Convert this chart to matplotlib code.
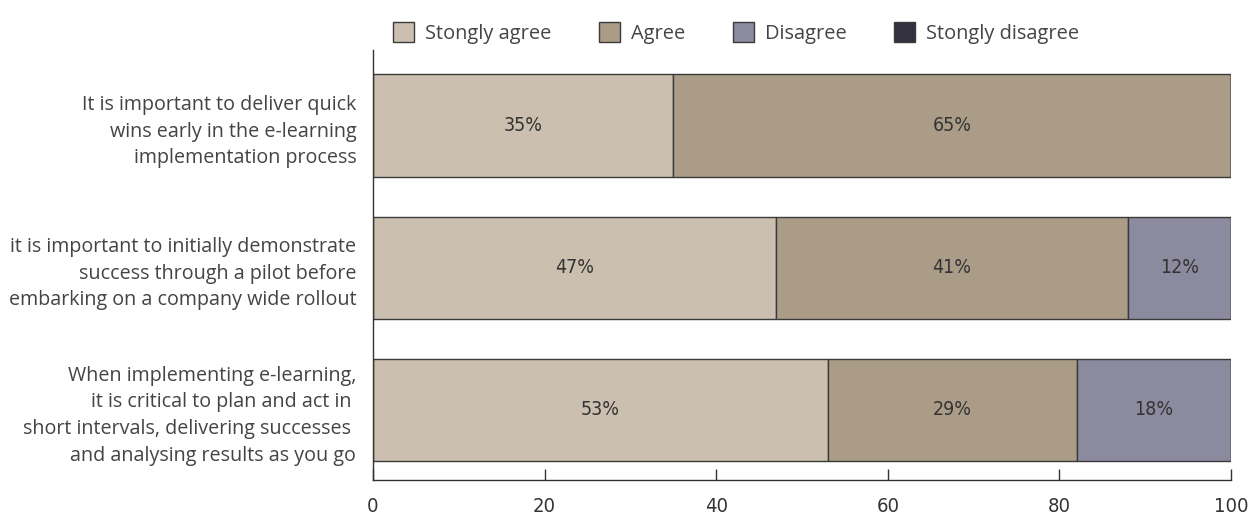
import matplotlib
matplotlib.use("Agg")
import matplotlib.pyplot as plt
from matplotlib.patches import Patch

statements = [
    "It is important to deliver quick\nwins early in the e-learning\nimplementation process",
    "it is important to initially demonstrate\nsuccess through a pilot before\nembarking on a company wide rollout",
    "When implementing e-learning,\nit is critical to plan and act in \nshort intervals, delivering successes \nand analysing results as you go",
]
categories = ["Stongly agree", "Agree", "Disagree", "Stongly disagree"]
strongly_agree = [35, 47, 53]
agree = [65, 41, 29]
disagree = [0, 12, 18]
strongly_disagree = [0, 0, 0]
x_ticks = [0, 20, 40, 60, 80, 100]

colors = ["#cbc0af", "#ab9c88", "#8c8a9e", "#33313f"]
edge = "#3a3a3a"

narrow = dict(family="DejaVu Sans", stretch="condensed")
main_font = "Open Sans"

fig = plt.figure(figsize=(12.57, 5.2), dpi=100)
ax = fig.add_axes([0.2967, 0.0769, 0.6826, 0.8269])

series = [strongly_agree, agree, disagree, strongly_disagree]
positions = list(range(len(statements)))
left = [0] * len(statements)
for vals, col in zip(series, colors):
    bars = ax.barh(positions, vals, left=left, height=0.72, color=col,
                   edgecolor=edge, linewidth=1.0, zorder=2)
    for b, v in zip(bars, vals):
        if v > 0:
            ax.text(b.get_x() + b.get_width() / 2, b.get_y() + b.get_height() / 2,
                    f"{v}%", ha="center", va="center", fontsize=14,
                    color="#333333", **narrow)
    left = [l + v for l, v in zip(left, vals)]

ax.set_xlim(0, 100)
ax.set_ylim(2.493, -0.532)
ax.set_xticks(x_ticks)
ax.set_xticklabels([str(t) for t in x_ticks], fontsize=14.5, color="#333333", **narrow)
ax.tick_params(axis="x", direction="in", length=8, width=1, color="#333333", pad=12)
ax.set_yticks(positions)
ax.set_yticklabels(statements, family=main_font, fontsize=14.2, color="#444444",
                   linespacing=1.45)
ax.tick_params(axis="y", length=0, pad=12)
for s in ["top", "right"]:
    ax.spines[s].set_visible(False)
for s in ["left", "bottom"]:
    ax.spines[s].set_color("#333333")
    ax.spines[s].set_linewidth(1)

handles = [Patch(facecolor=c, edgecolor=edge, linewidth=1) for c in colors]
leg = fig.legend(handles, categories, loc="center", bbox_to_anchor=(0.5856, 0.937),
                 ncol=4, frameon=False, handlelength=1.05, handleheight=1.15,
                 handletextpad=0.55, columnspacing=2.37,
                 prop={"family": main_font, "size": 14.4})
for t in leg.get_texts():
    t.set_color("#444444")

fig.savefig("out.png", dpi=100)
